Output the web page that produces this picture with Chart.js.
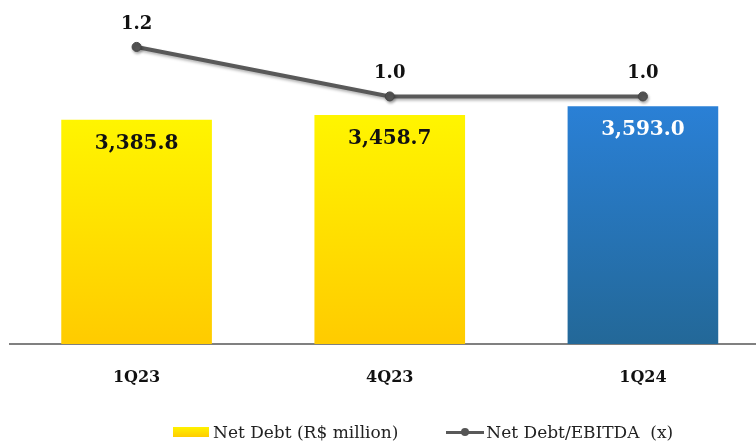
<!DOCTYPE html>
<html>
<head>
<meta charset="utf-8">
<script src="https://cdn.jsdelivr.net/npm/chart.js@4/dist/chart.umd.min.js"></script>
<style>
  html, body { margin: 0; padding: 0; background: #fff; overflow: hidden; }
  #wrap { position: relative; width: 775px; height: 441px; }
  #legend { position: absolute; top: 420px; left: 173px; font-family: "DejaVu Serif", serif; font-size: 17px; color: #222; white-space: nowrap; }
  #legend span { display: inline-block; vertical-align: middle; }
  .box { width: 36px; height: 10px; background: linear-gradient(#fff200, #ffcc00); margin-right: 4px; }
  .ln { width: 38px; height: 12px; position: relative; margin-left: 48px; margin-right: 2px; }
  .ln:before { content: ""; position: absolute; left: 0; right: 0; top: 5px; height: 3px; background: #595959; }
  .ln:after { content: ""; position: absolute; left: 15px; top: 2px; width: 8px; height: 8px; border-radius: 50%; background: #555; }
</style>
</head>
<body>
<div id="wrap">
  <canvas id="graphic"></canvas>
  <div id="legend"><span class="box"></span><span>Net Debt (R$ million)</span><span class="ln"></span><span>Net Debt/EBITDA&nbsp; (x)</span></div>
</div>
<script>
const categories = ['1Q23', '4Q23', '1Q24'];
const netDebt = [3385.8, 3458.7, 3593.0];
const leverage = [1.2, 1.0, 1.0];

const serif = '"DejaVu Serif", Georgia, serif';

function barFill(context) {
    const chart = context.chart;
    const area = chart.chartArea;
    const yScale = chart.scales.y;
    if (!area || !yScale) return '#ffdd00';
    let top = yScale.getPixelForValue(netDebt[context.dataIndex]);
    if (!isFinite(top) || !isFinite(area.bottom)) return '#ffdd00';
    const g = chart.ctx.createLinearGradient(0, top, 0, area.bottom);
    if (context.dataIndex === 2) {
        g.addColorStop(0, '#2a80d6');
        g.addColorStop(1, '#236898');
    } else {
        g.addColorStop(0, '#fff500');
        g.addColorStop(1, '#ffcb00');
    }
    return g;
}

const labelPlugin = {
    id: 'labels',
    beforeDatasetDraw(chart, args) {
        if (args.index === 0) {
            chart.ctx.save();
            chart.ctx.shadowColor = 'rgba(0,0,0,0.3)';
            chart.ctx.shadowBlur = 3;
            chart.ctx.shadowOffsetX = 1;
            chart.ctx.shadowOffsetY = 2;
        }
    },
    afterDatasetDraw(chart, args) {
        if (args.index === 0) chart.ctx.restore();
    },
    afterDatasetsDraw(chart) {
        const ctx = chart.ctx;
        ctx.save();
        ctx.textAlign = 'center';
        ctx.textBaseline = 'middle';
        ctx.font = 'bold 20px ' + serif;
        chart.getDatasetMeta(1).data.forEach((bar, i) => {
            ctx.fillStyle = i === 2 ? '#ffffff' : '#111111';
            ctx.fillText(netDebt[i].toLocaleString('en-US', {minimumFractionDigits: 1}), bar.x, bar.y + 24);
        });
        ctx.font = 'bold 18px ' + serif;
        chart.getDatasetMeta(0).data.forEach((pt, i) => {
            ctx.fillStyle = '#111111';
            ctx.fillText(leverage[i].toFixed(1), pt.x, pt.y - 23);
        });
        ctx.restore();
    }
};

const ctx = document.getElementById('graphic').getContext('2d');
const myChart = new Chart(ctx, {
    data: {
        labels: categories,
        datasets: [{
            type: 'line',
            label: 'Net Debt/EBITDA (x)',
            data: leverage,
            yAxisID: 'y1',
            borderColor: '#595959',
            borderWidth: 4,
            pointRadius: 4.5,
            pointBackgroundColor: '#555555',
            pointBorderColor: '#444444',
            pointBorderWidth: 1,
            order: 0
        }, {
            type: 'bar',
            label: 'Net Debt (R$ million)',
            data: netDebt,
            yAxisID: 'y',
            backgroundColor: barFill,
            categoryPercentage: 1,
            barPercentage: 0.595,
            order: 1
        }]
    },
    options: {
        responsive: true,
        maintainAspectRatio: false,
        animation: false,
        layout: { padding: { left: 10, right: 0, top: 13, bottom: 0 } },
        plugins: { legend: { display: false }, tooltip: { enabled: false } },
        scales: {
            x: {
                grid: { display: false },
                border: { display: true, color: '#808080', width: 2 },
                ticks: { color: '#111', font: { family: serif, weight: 'bold', size: 16 }, padding: 16 },
                afterFit(scale) { scale.height = 97; }
            },
            y: { display: false, min: 0, max: 5000 },
            y1: { display: false, min: 0, max: 1.337 }
        }
    },
    plugins: [labelPlugin]
});
</script>
</body>
</html>
